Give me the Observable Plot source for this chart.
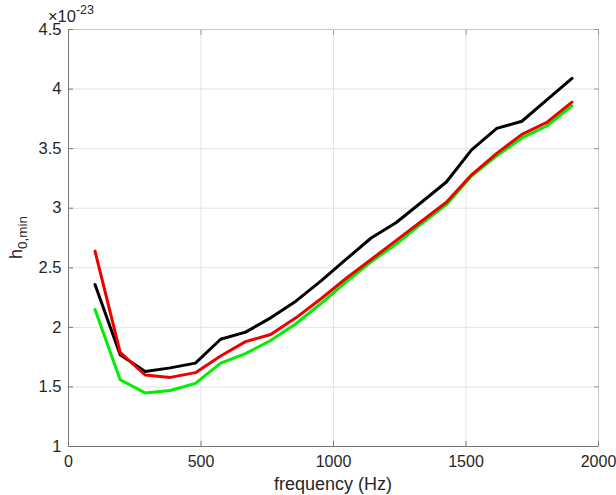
<!DOCTYPE html>
<html>
<head>
<meta charset="utf-8">
<script src="https://cdn.jsdelivr.net/npm/d3@7"></script>
<script src="https://cdn.jsdelivr.net/npm/@observablehq/plot@0.6"></script>
<style>
  body { margin: 0; background: #fff; }
  #chart { position: relative; width: 616px; height: 495px; }
</style>
</head>
<body>
<div id="chart"></div>
<script>
// Data (y values in units of 1e-23)
const frequency = [100, 195, 289, 384, 479, 574, 668, 763, 858, 953, 1047, 1142, 1237, 1332, 1426, 1521, 1616, 1711, 1805, 1900];
const blackSeries = [2.36, 1.77, 1.63, 1.66, 1.70, 1.90, 1.96, 2.08, 2.22, 2.39, 2.57, 2.75, 2.88, 3.05, 3.22, 3.49, 3.67, 3.73, 3.91, 4.09];
const redSeries   = [2.64, 1.79, 1.60, 1.58, 1.62, 1.76, 1.88, 1.94, 2.08, 2.24, 2.41, 2.57, 2.73, 2.89, 3.05, 3.28, 3.46, 3.62, 3.72, 3.89];
const greenSeries = [2.15, 1.56, 1.45, 1.47, 1.53, 1.70, 1.78, 1.89, 2.03, 2.20, 2.38, 2.55, 2.70, 2.87, 3.03, 3.27, 3.44, 3.59, 3.69, 3.86];
const xTicks = [0, 500, 1000, 1500, 2000];
const yTicks = [1, 1.5, 2, 2.5, 3, 3.5, 4, 4.5];
const xLabel = "frequency (Hz)";
const yLabelBase = "h";
const yLabelSub = "0,min";
const exponent = "-23";

const toRows = (ys) => frequency.map((f, i) => ({f, v: ys[i]}));

const fontFamily = "'Liberation Sans', Arial, Helvetica, sans-serif";
const noLabel = () => "";

const plot = Plot.plot({
  width: 616,
  height: 495,
  marginLeft: 68,
  marginRight: 18,
  marginTop: 29,
  marginBottom: 49,
  style: {fontFamily, fontSize: "16px", color: "#262626", background: "#fff"},
  x: {domain: [0, 2000], ticks: xTicks},
  y: {domain: [1, 4.5], ticks: yTicks},
  marks: [
    Plot.gridX(xTicks, {stroke: "#e3e3e3", strokeOpacity: 1, strokeWidth: 1}),
    Plot.gridY(yTicks, {stroke: "#e3e3e3", strokeOpacity: 1, strokeWidth: 1}),
    Plot.frame({stroke: "#c8c8c8", strokeWidth: 1}),
    Plot.axisX(xTicks, {anchor: "bottom", tickSize: -5, tickPadding: 14, label: null, stroke: "#777", fill: "#262626", fontSize: 16, tickFormat: d => String(d)}),
    Plot.axisY(yTicks, {anchor: "left", tickSize: -5, tickPadding: 12, label: null, stroke: "#777", fill: "#262626", fontSize: 16.5, tickFormat: d => String(d)}),
    Plot.axisX(xTicks, {anchor: "top", tickSize: -5, tickFormat: noLabel, label: null, stroke: "#999"}),
    Plot.axisY(yTicks, {anchor: "right", tickSize: -5, tickFormat: noLabel, label: null, stroke: "#999"}),
    Plot.ruleX([0], {stroke: "#777"}),
    Plot.ruleY([1], {stroke: "#777"}),
    Plot.line(toRows(blackSeries), {x: "f", y: "v", stroke: "#000000", strokeWidth: 3}),
    Plot.line(toRows(greenSeries), {x: "f", y: "v", stroke: "#00ee00", strokeWidth: 3}),
    Plot.line(toRows(redSeries), {x: "f", y: "v", stroke: "#ee0000", strokeWidth: 3})
  ]
});

document.getElementById("chart").appendChild(plot);

// Labels (real text) added to the SVG
const svg = d3.select(plot);
svg.append("text")
  .attr("x", 68 + (616 - 68 - 18) / 2)
  .attr("y", 490)
  .attr("text-anchor", "middle")
  .attr("fill", "#262626")
  .style("font-family", fontFamily)
  .style("font-size", "18px")
  .text(xLabel);

const yl = svg.append("text")
  .attr("transform", `translate(22, ${29 + (446 - 29) / 2}) rotate(-90)`)
  .attr("text-anchor", "middle")
  .attr("fill", "#262626")
  .style("font-family", fontFamily)
  .style("font-size", "18px");
yl.append("tspan").text(yLabelBase);
yl.append("tspan").attr("dy", 5).style("font-size", "13.5px").text(yLabelSub);

const ex = svg.append("text")
  .attr("x", 71)
  .attr("y", 22)
  .attr("fill", "#262626")
  .style("font-family", fontFamily)
  .style("font-size", "16.5px");
ex.append("tspan").text("×10");
ex.append("tspan").attr("dy", -8).style("font-size", "12.5px").text(exponent);
</script>
</body>
</html>
